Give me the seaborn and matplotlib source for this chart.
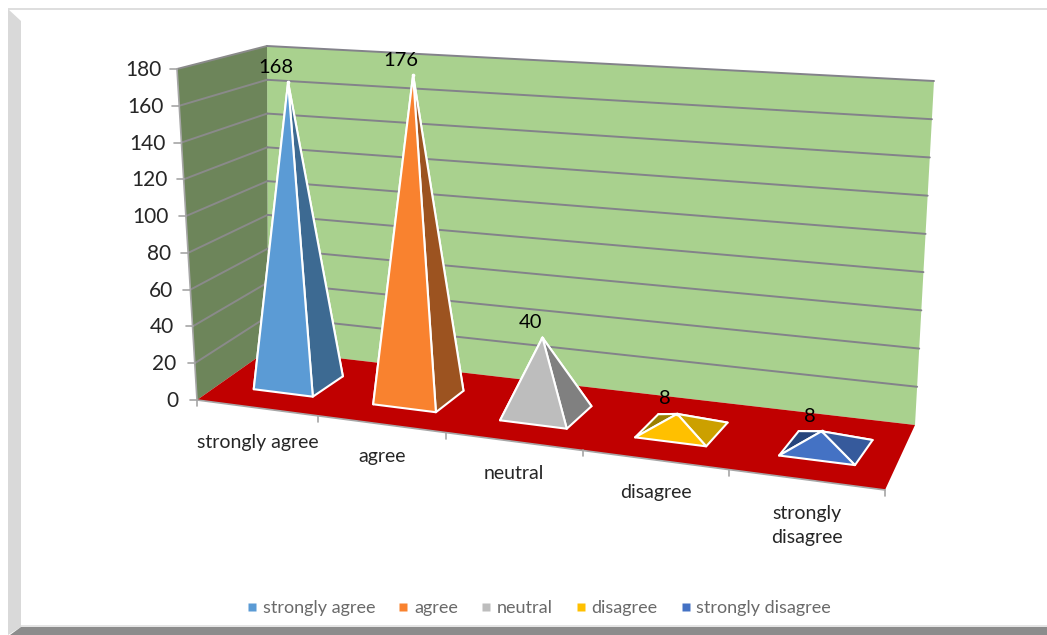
import numpy as np
import pandas as pd
import matplotlib
matplotlib.use("Agg")
import matplotlib.pyplot as plt
from matplotlib.lines import Line2D
from matplotlib.patches import Polygon
import seaborn as sns

categories = ["strongly agree", "agree", "neutral", "disagree", "strongly disagree"]
tick_labels = ["strongly agree", "agree", "neutral", "disagree", "strongly\ndisagree"]
values = [168, 176, 40, 8, 8]
axis_ticks = [0, 20, 40, 60, 80, 100, 120, 140, 160, 180]
front_colors = ["#5B9BD5", "#F9822F", "#BDBDBD", "#FFC000", "#4472C4"]
right_colors = ["#3D6A92", "#9C5320", "#808080", "#CCA000", "#365A9C"]
back_colors = ["#2C4E6E", "#74401A", "#606060", "#9B7F00", "#27457C"]

VMAX = 180
N = len(categories)

sns.set_theme(style="white", rc={"font.family": ["Lato", "DejaVu Sans"]})
plt.rcParams["font.family"] = ["Lato", "DejaVu Sans"]


def homography(src, dst):
    rows = []
    for (x, y), (u, v) in zip(src, dst):
        rows.append([x, y, 1, 0, 0, 0, -u * x, -u * y, -u])
        rows.append([0, 0, 0, x, y, 1, -v * x, -v * y, -v])
    return np.linalg.svd(np.array(rows, float))[2][-1].reshape(3, 3)


unit = [(0, 0), (N, 0), (N, 1), (0, 1)]
FLOOR = homography(unit, [(197, 400), (885, 490), (915, 425), (268, 350)])
ROOF = homography(unit, [(177, 69), (905, 112), (934, 81), (267, 46)])


def apply(H, x, z):
    p = H @ np.array([x, z, 1.0])
    return p[:2] / p[2]


def proj(x, z, v=0.0):
    """category position x, depth z (0 front, 1 back), value v -> canvas position"""
    f, r = apply(FLOOR, x, z), apply(ROOF, x, z)
    return tuple(f + (r - f) * v / VMAX)


fig = plt.figure(figsize=(10.47, 6.35), dpi=100, facecolor="white")
ax = fig.add_axes([0, 0, 1, 1])
ax.set_xlim(0, 1047)
ax.set_ylim(635, 0)
ax.axis("off")

# slide frame
ax.add_patch(Polygon([(8, 8), (1047, 8), (1047, 10), (8, 10)], fc="#DEDEDE", ec="none", zorder=0))
ax.add_patch(Polygon([(8, 9), (21, 21), (21, 627), (8, 635)], fc="#D9D9D9", ec="none", zorder=0))
ax.add_patch(Polygon([(21, 625), (1047, 625), (1047, 627), (21, 627)], fc="#E4E4E4", ec="none", zorder=0))
ax.add_patch(Polygon([(21, 627), (1047, 627), (1047, 635), (10, 635)], fc="#8C8C8C", ec="none", zorder=0))

# walls and floor
ax.add_patch(Polygon([proj(0, 1, 0), proj(N, 1, 0), proj(N, 1, VMAX), proj(0, 1, VMAX)],
                     fc="#A9D18E", ec="none", zorder=1))
ax.add_patch(Polygon([proj(0, 0, 0), proj(0, 1, 0), proj(0, 1, VMAX), proj(0, 0, VMAX)],
                     fc="#6D855A", ec="none", zorder=1))
ax.add_patch(Polygon([proj(0, 0), proj(N, 0), proj(N, 1), proj(0, 1)],
                     fc="#C00000", ec="none", zorder=2))

# gridlines on the walls
rows = []
for v in axis_ticks:
    a, b, c = proj(0, 0, v), proj(0, 1, v), proj(N, 1, v)
    rows += [dict(px=a[0], py=a[1], tick=v, wall="side"), dict(px=b[0], py=b[1], tick=v, wall="side"),
             dict(px=b[0], py=b[1], tick=v, wall="back"), dict(px=c[0], py=c[1], tick=v, wall="back")]
grid = pd.DataFrame(rows)
for wall, color in (("side", "#8A8A8A"), ("back", "#83828A")):
    sub = grid[(grid.wall == wall) & (grid.tick > 0)]
    sns.lineplot(data=sub, x="px", y="py", units="tick", estimator=None, color=color,
                 lw=1.4, ax=ax, legend=False, zorder=1.5, sort=False)
ax.set_xlim(0, 1047)
ax.set_ylim(635, 0)

# axis edges and ticks
E = "#A6A6A6"
ax.plot(*zip(proj(0, 0, 0), proj(0, 0, VMAX)), color=E, lw=1.2, zorder=1.6)
ax.plot(*zip(proj(0, 0, 0), proj(N, 0, 0)), color=E, lw=1.2, zorder=3)
for v in axis_ticks:
    x, y = proj(0, 0, v)
    ax.plot([x - 7, x], [y, y], color=E, lw=1.2, zorder=3)
    ax.text(x * 0.8 + 20.4, y + 1, str(v), ha="right", va="center", fontsize=15, color="#262626", zorder=5)
for i in range(N + 1):
    x, y = proj(i, 0)
    ax.plot([x, x], [y, y + 6], color=E, lw=1.2, zorder=3)
label_drop = [35, 32, 32, 33, 46]
for i, lab in enumerate(tick_labels):
    x, y = proj(i + 0.5, 0)
    ax.text(x + 1, y + label_drop[i], lab, ha="center", va="center", fontsize=14, color="#262626",
            linespacing=1.55, zorder=5)

# pyramids
HALF = 0.248
Z0, Z1 = 0.29, 0.69
SKEW = 0.03
apex_pts = []
for i, v in enumerate(values):
    cx = i + 0.55 - 0.012 * i
    zc = (Z0 + Z1) / 2
    fl, fr = proj(cx - HALF, Z0), proj(cx + HALF, Z0)
    bl, br = proj(cx - HALF + SKEW, Z1), proj(cx + HALF + SKEW, Z1)
    tip = proj(cx - 0.02, zc, v)
    apex_pts.append(dict(px=tip[0], py=tip[1], category=categories[i]))
    style = dict(ec="white", lw=1.5, joinstyle="round", zorder=4)
    ax.add_patch(Polygon([bl, br, tip], fc=back_colors[i], **style))
    ax.add_patch(Polygon([bl, fl, tip], fc=back_colors[i], **style))
    ax.add_patch(Polygon([fr, br, tip], fc=right_colors[i], **style))
    ax.add_patch(Polygon([fl, fr, tip], fc=front_colors[i], **style))
    ax.text(tip[0] - 12, tip[1] - 15, str(v), ha="center", va="center", fontsize=14.5,
            color="black", zorder=6)

apex = pd.DataFrame(apex_pts)
sns.scatterplot(data=apex, x="px", y="py", color="white", s=7, linewidth=0, ax=ax,
                legend=False, zorder=4.5)
ax.set_xlim(0, 1047)
ax.set_ylim(635, 0)

handles = [Line2D([], [], ls="none", marker="s", ms=6, mfc=c, mec="none", label=n)
           for c, n in zip(front_colors, categories)]
ax.legend(handles=handles, loc="center", bbox_to_anchor=(536 / 1047, 1 - 608 / 635), ncol=5,
          frameon=False, fontsize=13, labelcolor="#6A6A6A", handletextpad=0.0,
          columnspacing=0.95, handlelength=1.2)

fig.savefig("out.png", dpi=100, facecolor="white")
